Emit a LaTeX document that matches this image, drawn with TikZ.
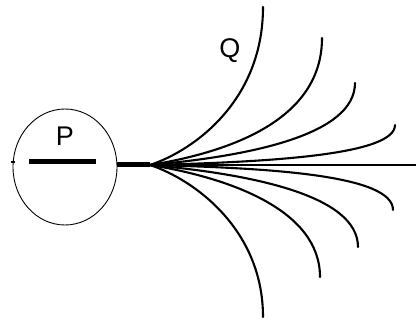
\documentclass[tikz,border=0pt]{standalone}
\usepackage{fontspec}
\setmainfont{Liberation Sans}
\usetikzlibrary{shapes.geometric}
\begin{document}
\begin{tikzpicture}[x=1pt,y=-1pt,
  fan/.style={line width=2.1pt,line cap=round},
  lbl/.style={font=\fontsize{27}{27}\selectfont,inner sep=0pt}]
\useasboundingbox (0,0) rectangle (416,323);
\node[draw,ellipse,line width=0.9pt,minimum width=104pt,minimum height=116pt,inner sep=0pt] (E) at (65,167) {};
\node[lbl] (P) at (65,136) {P};
\node[lbl] (Q) at (230,51) {Q};
\coordinate (b1) at (29,162);
\coordinate (b2) at (96,162);
\draw[line width=5pt] (b1) -- (b2);
\coordinate (t) at (11,162);
\draw[line width=1.2pt] (t) -- ++(4,0);
\coordinate (s) at (117,165);
\coordinate (f) at (150,165);
\coordinate (e) at (416,165);
\draw[line width=5pt] (s) -- (f);
\draw[line width=2.4pt] (f) -- (e);
\coordinate (u1) at (263,7);
\coordinate (u2) at (322,38);
\coordinate (u3) at (355,83);
\coordinate (u4) at (395,125);
\coordinate (d1) at (263,317);
\coordinate (d2) at (320,277);
\coordinate (d3) at (358,247);
\coordinate (d4) at (393,210);
\draw[fan] (f) .. controls (195,150) and (263,100) .. (u1);
\draw[fan] (f) .. controls (230,152) and (322,120) .. (u2);
\draw[fan] (f) .. controls (250,156) and (355,135) .. (u3);
\draw[fan] (f) .. controls (270,162) and (395,155) .. (u4);
\draw[fan] (f) .. controls (195,180) and (263,230) .. (d1);
\draw[fan] (f) .. controls (230,178) and (320,210) .. (d2);
\draw[fan] (f) .. controls (250,174) and (358,195) .. (d3);
\draw[fan] (f) .. controls (270,168) and (393,175) .. (d4);
\end{tikzpicture}
\end{document}
